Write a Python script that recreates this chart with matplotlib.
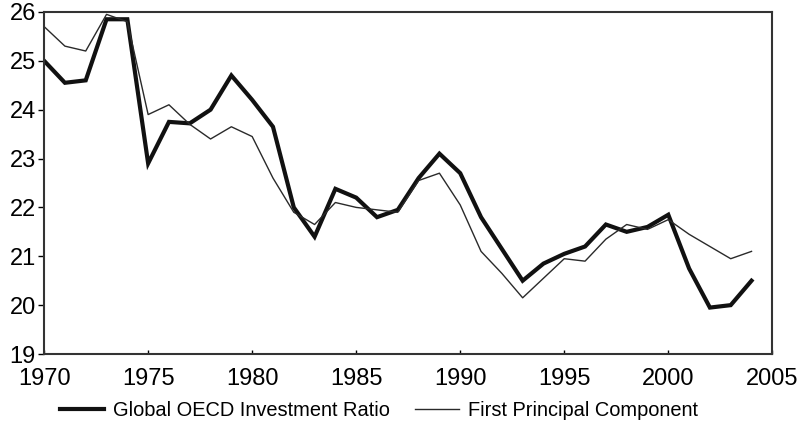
import matplotlib
matplotlib.use("Agg")
import matplotlib.pyplot as plt
import numpy as np

years = np.arange(1970, 2005)

# global OECD investment ratio (thick line)
invest = [25.0, 24.55, 24.6, 25.85, 25.85, 22.9, 23.75, 23.72, 24.0, 24.7,
          24.2, 23.65, 22.0, 21.4, 22.38, 22.2, 21.8, 21.95, 22.6, 23.1,
          22.7, 21.8, 21.15, 20.5, 20.85, 21.05, 21.2, 21.65, 21.5, 21.6,
          21.85, 20.75, 19.95, 20.0, 20.5]

# first principal component (thin line)
pc1 = [25.7, 25.3, 25.2, 25.95, 25.8, 23.9, 24.1, 23.7, 23.4, 23.65,
       23.45, 22.6, 21.9, 21.65, 22.1, 22.0, 21.95, 21.9, 22.55, 22.7,
       22.05, 21.1, 20.65, 20.15, 20.55, 20.95, 20.9, 21.35, 21.65, 21.55,
       21.75, 21.45, 21.2, 20.95, 21.1]

xticks = [1970, 1975, 1980, 1985, 1990, 1995, 2000, 2005]
yticks = [19, 20, 21, 22, 23, 24, 25, 26]

plt.rcParams['font.family'] = ['Liberation Sans', 'DejaVu Sans']

fig = plt.figure(figsize=(8.02, 4.26), dpi=100)
ax = fig.add_axes([0.055, 0.169, 0.908, 0.803])

ax.plot(years, invest, color='#111111', lw=3.0, solid_joinstyle='miter',
        label='Global OECD Investment Ratio')
ax.plot(years, pc1, color='#2a2a2a', lw=1.0,
        label='First Principal Component')

ax.set_xlim(1970, 2005)
ax.set_ylim(19, 26)
ax.set_xticks(xticks)
ax.set_yticks(yticks)
ax.tick_params(axis='x', direction='in', length=3, width=1, labelsize=17, pad=10)
ax.tick_params(axis='y', direction='out', length=4, width=1, labelsize=17, pad=2)
for s in ax.spines.values():
    s.set_linewidth(1.5)
    s.set_color('#333333')

leg = fig.legend(loc='center', bbox_to_anchor=(0.473, 0.037), ncol=2,
                 frameon=False, fontsize=14.4, handlelength=2.2,
                 columnspacing=1.25, handletextpad=0.45)

fig.savefig('out.png', dpi=100)
